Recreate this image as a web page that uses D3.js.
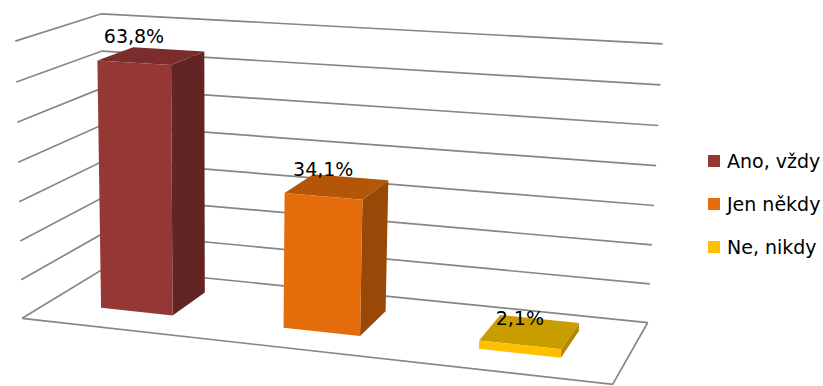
<!DOCTYPE html>
<html>
<head>
<meta charset="utf-8">
<script src="https://cdn.jsdelivr.net/npm/d3@7"></script>
<style>
  html, body { margin: 0; padding: 0; background: #fff; }
  svg { display: block; }
</style>
</head>
<body>
<svg id="chart" width="823" height="386"></svg>
<script>
// Survey answers and their shares (%)
const categories = ["Ano, vždy", "Jen někdy", "Ne, nikdy"];
const values = [63.8, 34.1, 2.1];
const valueLabels = ["63,8%", "34,1%", "2,1%"];
const gridTicks = [0, 10, 20, 30, 40, 50, 60, 70];

// Face colours per series: front, side, top
const frontColors = ["#953735", "#e46c0a", "#ffc000"];
const sideColors  = ["#632523", "#984807", "#b38700"];
const topColors   = ["#7b2d2b", "#b35608", "#c99c00"];

const svg = d3.select("#chart");

// Corners of the unit plot box (x: categories, y: value, z: depth back)
// and where they land on screen; a projective camera is fitted to them.
const boxCorners = [
  [[0, 0, 0], [25, 317]],
  [[0, 0, 1], [102, 269]],
  [[1, 0, 1], [648, 322]],
  [[1, 0, 0], [613, 385]],
  [[0, 1, 1], [105, 13]],
  [[1, 1, 1], [662, 44]],
  [[0, 1, 0], [12, 42]]
];

function fitCamera(pairs) {
  const s = 100; // normalise screen units for conditioning
  const rows = [], rhs = [];
  pairs.forEach(([[X, Y, Z], [u0, v0]]) => {
    const u = u0 / s, v = v0 / s;
    rows.push([X, Y, Z, 1, 0, 0, 0, 0, -u * X, -u * Y, -u * Z]); rhs.push(u);
    rows.push([0, 0, 0, 0, X, Y, Z, 1, -v * X, -v * Y, -v * Z]); rhs.push(v);
  });
  const n = 11;
  const M = Array.from({ length: n }, () => new Array(n + 1).fill(0));
  rows.forEach((r, k) => {
    for (let i = 0; i < n; i++) {
      for (let j = 0; j < n; j++) M[i][j] += r[i] * r[j];
      M[i][n] += r[i] * rhs[k];
    }
  });
  for (let c = 0; c < n; c++) {
    let p = c;
    for (let r = c + 1; r < n; r++) if (Math.abs(M[r][c]) > Math.abs(M[p][c])) p = r;
    [M[c], M[p]] = [M[p], M[c]];
    for (let r = 0; r < n; r++) {
      if (r === c) continue;
      const f = M[r][c] / M[c][c];
      for (let j = c; j <= n; j++) M[r][j] -= f * M[c][j];
    }
  }
  const m = M.map((row, i) => row[n] / row[i]);
  return ([X, Y, Z]) => {
    const w = m[8] * X + m[9] * Y + m[10] * Z + 1;
    return [
      s * (m[0] * X + m[1] * Y + m[2] * Z + m[3]) / w,
      s * (m[4] * X + m[5] * Y + m[6] * Z + m[7]) / w
    ];
  };
}
const project = fitCamera(boxCorners);

// Scales in box units
const x = d3.scaleBand().domain(categories).range([0, 1]).paddingInner(0.6).paddingOuter(0.3);
const y = d3.scaleLinear().domain([0, 70]).range([0, 1]);
const zFront = 0.3, zBack = 0.74;

const poly = pts => "M" + pts.map(p => project(p).join(",")).join("L") + "Z";
const polyline = pts => "M" + pts.map(p => project(p).join(",")).join("L");

// Walls: gridlines on the side and back walls
const grid = svg.append("g").attr("fill", "none").attr("stroke", "#868686").attr("stroke-width", 1.7);
gridTicks.forEach(t => {
  grid.append("path").attr("d", polyline([[0, y(t), 0], [0, y(t), 1], [1, y(t), 1]]));
});
// Floor outline
grid.append("path").attr("d", polyline([[0, 0, 0], [1, 0, 0], [1, 0, 1]]));

// Columns
const bars = svg.append("g");
categories.forEach((c, i) => {
  const x0 = x(c), x1 = x(c) + x.bandwidth();
  const h = y(values[i]);
  const g = bars.append("g");
  g.append("path").attr("fill", sideColors[i])
    .attr("d", poly([[x1, 0, zFront], [x1, 0, zBack], [x1, h, zBack], [x1, h, zFront]]));
  g.append("path").attr("fill", topColors[i])
    .attr("d", poly([[x0, h, zFront], [x1, h, zFront], [x1, h, zBack], [x0, h, zBack]]));
  g.append("path").attr("fill", frontColors[i])
    .attr("d", poly([[x0, 0, zFront], [x1, 0, zFront], [x1, h, zFront], [x0, h, zFront]]));
});

// Value labels above each column
categories.forEach((c, i) => {
  const [px, py] = project([x(c) + x.bandwidth() / 2, y(values[i]), zFront]);
  svg.append("text")
    .attr("x", px).attr("y", py - 20)
    .attr("text-anchor", "middle")
    .attr("font-family", "DejaVu Sans, sans-serif")
    .attr("font-size", 19)
    .attr("fill", "#000")
    .text(valueLabels[i]);
});

// Legend
const legend = svg.append("g").attr("transform", "translate(708,168)");
categories.forEach((c, i) => {
  const row = legend.append("g").attr("transform", `translate(0,${i * 43})`);
  row.append("rect").attr("x", 0).attr("y", -13).attr("width", 12).attr("height", 12).attr("fill", frontColors[i]);
  row.append("text").attr("x", 19).attr("y", 0)
    .attr("font-family", "DejaVu Sans, sans-serif")
    .attr("font-size", 19)
    .attr("fill", "#000")
    .text(c);
});
</script>
</body>
</html>
